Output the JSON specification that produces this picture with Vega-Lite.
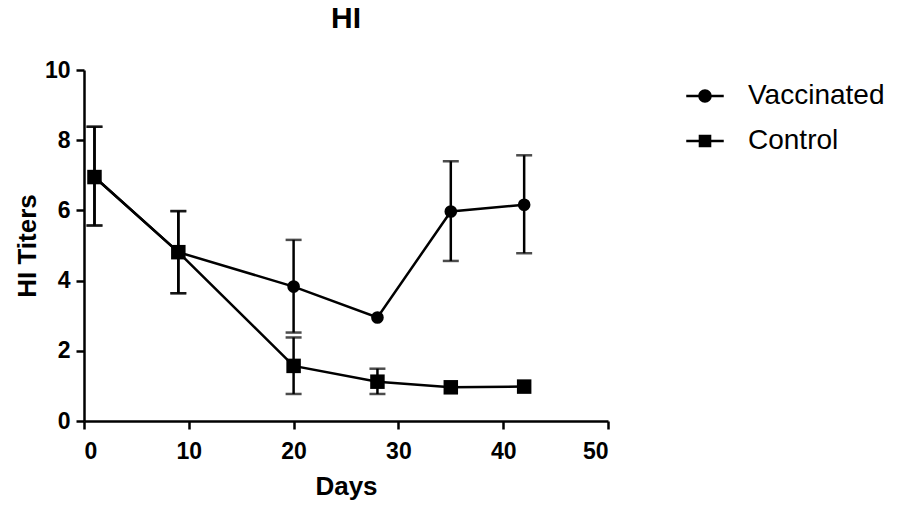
{
  "$schema": "https://vega.github.io/schema/vega-lite/v6.json",
  "autosize": "none",
  "width": 524,
  "height": 351,
  "padding": {"left": 84, "top": 70, "right": 290, "bottom": 85},
  "background": "white",
  "title": {"text": "HI", "anchor": "middle", "font": "Liberation Sans", "fontSize": 30, "fontWeight": "bold", "color": "black", "offset": 25},
  "config": {
    "view": {"stroke": null},
    "axis": {"grid": false, "domainColor": "black", "domainWidth": 2.5, "tickColor": "black", "tickWidth": 2.5, "tickSize": 8,
      "labelFont": "Liberation Sans", "labelFontSize": 23, "labelFontWeight": "bold", "labelColor": "black",
      "titleFont": "Liberation Sans", "titleFontSize": 26, "titleFontWeight": "bold", "titleColor": "black"}
  },
  "data": {"values": [
    {"group": "Vaccinated", "day": 1, "mean": 6.95, "lo": 5.57, "hi": 8.38},
    {"group": "Vaccinated", "day": 9, "mean": 4.81, "lo": 3.64, "hi": 5.98},
    {"group": "Vaccinated", "day": 20, "mean": 3.83, "lo": 2.52, "hi": 5.16},
    {"group": "Vaccinated", "day": 28, "mean": 2.95, "lo": null, "hi": null},
    {"group": "Vaccinated", "day": 35, "mean": 5.97, "lo": 4.56, "hi": 7.4},
    {"group": "Vaccinated", "day": 42, "mean": 6.16, "lo": 4.78, "hi": 7.57},
    {"group": "Control", "day": 1, "mean": 6.95, "lo": 5.57, "hi": 8.38},
    {"group": "Control", "day": 9, "mean": 4.81, "lo": 3.64, "hi": 5.98},
    {"group": "Control", "day": 20, "mean": 1.57, "lo": 0.77, "hi": 2.38},
    {"group": "Control", "day": 28, "mean": 1.12, "lo": 0.77, "hi": 1.49},
    {"group": "Control", "day": 35, "mean": 0.96, "lo": null, "hi": null},
    {"group": "Control", "day": 42, "mean": 0.98, "lo": null, "hi": null}
  ]},
  "layer": [
    {
      "transform": [{"filter": "isValid(datum.lo)"}],
      "mark": {"type": "errorbar", "color": "black", "thickness": 2.5, "ticks": {"size": 16, "thickness": 2.5, "color": "black"}},
      "encoding": {
        "x": {"field": "day", "type": "quantitative"},
        "y": {"field": "lo", "type": "quantitative", "title": "HI Titers"},
        "y2": {"field": "hi"}
      }
    },
    {
      "mark": {"type": "line", "color": "black", "strokeWidth": 2.5},
      "encoding": {
        "x": {"field": "day", "type": "quantitative", "scale": {"domain": [0, 50]}, "axis": {"values": [0, 10, 20, 30, 40, 50], "title": "Days", "titlePadding": 10, "labelPadding": 11}},
        "y": {"field": "mean", "type": "quantitative", "scale": {"domain": [0, 10]}, "axis": {"values": [0, 2, 4, 6, 8, 10], "title": "HI Titers", "titlePadding": 4, "labelPadding": 6}},
        "detail": {"field": "group"}
      }
    },
    {
      "mark": {"type": "point", "filled": true, "color": "black", "opacity": 1},
      "encoding": {
        "x": {"field": "day", "type": "quantitative"},
        "y": {"field": "mean", "type": "quantitative"},
        "shape": {"field": "group", "type": "nominal", "scale": {"domain": ["Vaccinated", "Control"], "range": ["circle", "square"]}, "legend": null},
        "size": {"field": "group", "type": "nominal", "scale": {"domain": ["Vaccinated", "Control"], "range": [160, 210]}, "legend": null}
      }
    },
    {
      "transform": [{"filter": "datum.day < 0"}],
      "mark": {"type": "point", "filled": true, "color": "black", "opacity": 1},
      "encoding": {
        "x": {"field": "day", "type": "quantitative"},
        "y": {"field": "mean", "type": "quantitative"},
        "shape": {"field": "group", "type": "nominal",
          "scale": {"domain": ["Vaccinated", "Control"], "range": [
            "M-1.25,-0.085H-0.4V0.085H-1.25ZM0.4,-0.085H1.25V0.085H0.4ZM0.45,0A0.45,0.45 0 1 1 -0.45,0A0.45,0.45 0 1 1 0.45,0Z",
            "M-1.25,-0.085H-0.4V0.085H-1.25ZM0.4,-0.085H1.25V0.085H0.4ZM-0.42,-0.42H0.42V0.42H-0.42Z"]},
          "legend": {"title": null, "orient": "none", "legendX": 605, "legendY": 10, "symbolSize": 900, "labelFont": "Liberation Sans", "labelFontSize": 28, "labelColor": "black", "labelOffset": 27, "rowPadding": 15,
            "encode": {"symbols": {"update": {"fill": {"value": "black"}, "opacity": {"value": 1}}}}}
        }
      }
    }
  ],
  "resolve": {"scale": {"shape": "independent"}, "legend": {"shape": "independent"}}
}
